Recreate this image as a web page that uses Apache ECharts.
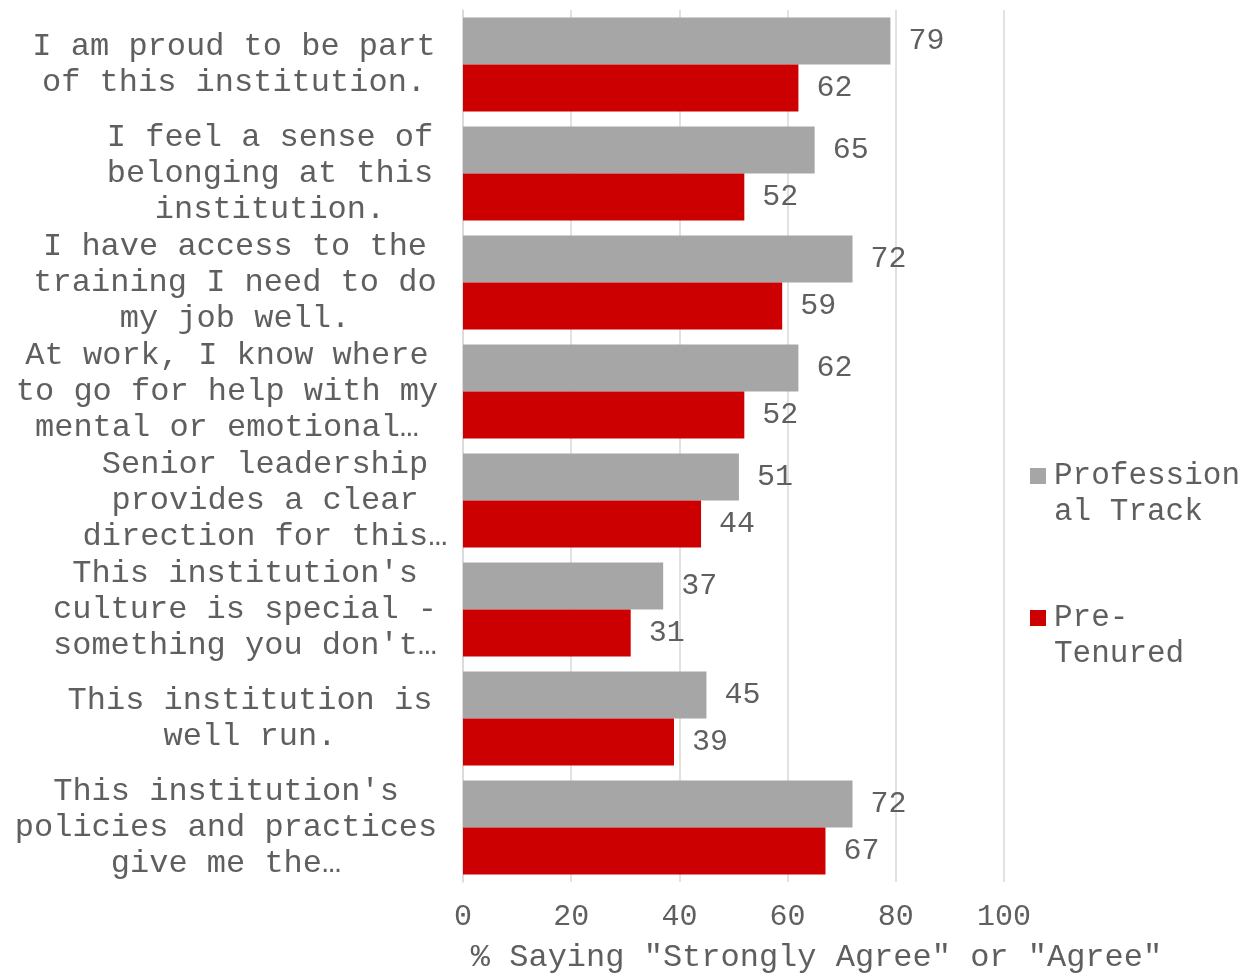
<!DOCTYPE html>
<html>
<head>
<meta charset="utf-8">
<script src="https://cdn.jsdelivr.net/npm/echarts@6/dist/echarts.min.js"></script>
<style>
html, body { margin: 0; padding: 0; background: #ffffff; }
#chart { width: 1246px; height: 976px; }
</style>
</head>
<body>
<div id="chart"></div>
<script>
var categories = [
    'I am proud to be part\nof this institution.',
    'I feel a sense of\nbelonging at this\ninstitution.',
    'I have access to the\ntraining I need to do\nmy job well.',
    'At work, I know where\nto go for help with my\nmental or emotional\u2026',
    'Senior leadership\nprovides a clear\ndirection for this\u2026',
    'This institution\'s\nculture is special -\nsomething you don\'t\u2026',
    'This institution is\nwell run.',
    'This institution\'s\npolicies and practices\ngive me the\u2026'
];
var professionalTrack = [79, 65, 72, 62, 51, 37, 45, 72];
var preTenured = [62, 52, 59, 52, 44, 31, 39, 67];
var xTicks = { min: 0, max: 100, interval: 20 };

// Excel wraps each label in its own box, so the centre drifts a little
var labelShift = [4, 40, 5, -3, 35, 15, 20, -4];

var font = "'Liberation Mono', 'Courier New', monospace";
var textColor = '#5f5f5f';

var chart = echarts.init(document.getElementById('chart'));

var yData = categories.map(function (c, i) {
    var s = labelShift[i];
    return {
        value: c,
        textStyle: {
            align: 'center',
            padding: s >= 0 ? [0, 0, 0, 2 * s] : [0, -2 * s, 0, 0]
        }
    };
});

var option = {
    backgroundColor: '#ffffff',
    animation: false,
    color: ['#a6a6a6', '#cc0000'],
    grid: {
        left: 463,
        right: 242,
        top: 10,
        bottom: 94,
        outerBoundsMode: 'none'
    },
    legend: {
        orient: 'vertical',
        left: 1025,
        top: 453,
        itemWidth: 16,
        itemHeight: 52,
        itemGap: 70,
        // square sits beside the first text line, not the middle of both
        icon: 'path://M0,0H16V16H0Z M0,52H0.01V52.01H0Z',
        formatter: function (name) {
            if (name === 'Professional Track') return 'Profession\nal Track';
            if (name === 'Pre-Tenured') return 'Pre-\nTenured';
            return name;
        },
        textStyle: {
            fontFamily: font,
            fontSize: 31,
            lineHeight: 36,
            padding: [0, 0, 0, 3],
            color: textColor
        },
        data: ['Professional Track', 'Pre-Tenured']
    },
    xAxis: {
        type: 'value',
        min: xTicks.min,
        max: xTicks.max,
        interval: xTicks.interval,
        name: '% Saying "Strongly Agree" or "Agree"',
        nameLocation: 'middle',
        nameGap: 60,
        nameTextStyle: {
            fontFamily: font,
            fontSize: 32,
            color: textColor,
            padding: [0, 0, 0, 166]
        },
        axisLine: { show: false },
        axisTick: { show: false },
        axisLabel: {
            margin: 20,
            fontFamily: font,
            fontSize: 30,
            color: textColor
        },
        splitLine: {
            lineStyle: { color: '#d9d9d9', width: 1.5 }
        }
    },
    yAxis: {
        type: 'category',
        inverse: true,
        data: yData,
        axisLine: { show: true, lineStyle: { color: '#d9d9d9', width: 1.5 } },
        axisTick: { show: false },
        axisLabel: {
            margin: 233,
            align: 'center',
            fontFamily: font,
            fontSize: 32,
            lineHeight: 36,
            color: textColor
        }
    },
    series: [
        {
            name: 'Professional Track',
            type: 'bar',
            barWidth: 47,
            barGap: '0%',
            data: professionalTrack,
            label: {
                show: true,
                position: 'right',
                distance: 18,
                fontFamily: font,
                fontSize: 30,
                color: textColor
            }
        },
        {
            name: 'Pre-Tenured',
            type: 'bar',
            barWidth: 47,
            barGap: '0%',
            data: preTenured,
            label: {
                show: true,
                position: 'right',
                distance: 18,
                fontFamily: font,
                fontSize: 30,
                color: textColor
            }
        }
    ]
};

chart.setOption(option);
</script>
</body>
</html>
